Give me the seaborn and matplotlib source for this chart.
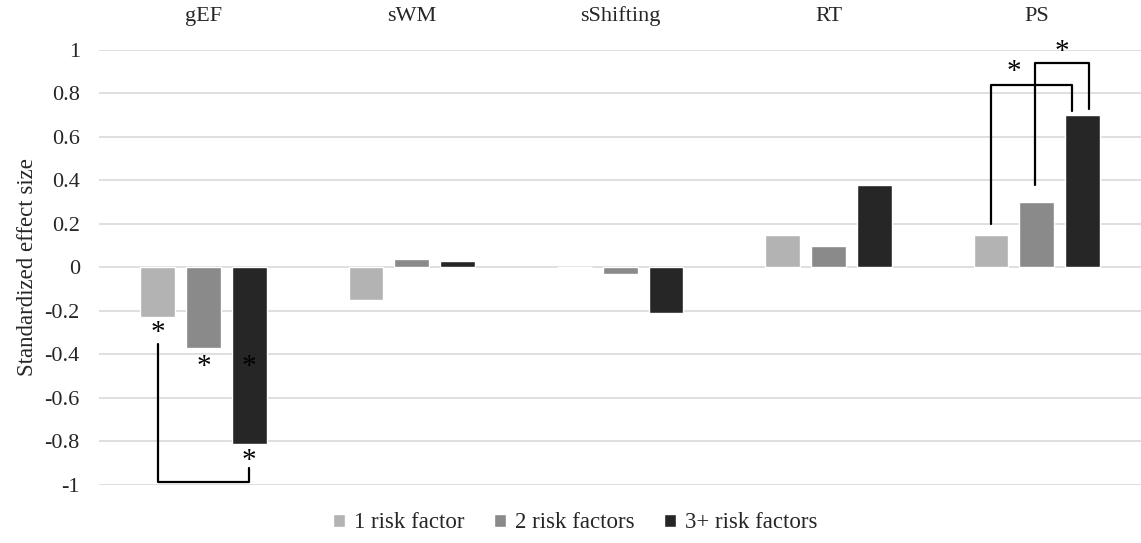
import matplotlib
matplotlib.use("Agg")
import matplotlib.pyplot as plt
import seaborn as sns
import pandas as pd

# Data
domains = ["gEF", "sWM", "sShifting", "RT", "PS"]
groups = ["1 risk factor", "2 risk factors", "3+ risk factors"]
one_risk = [-0.23, -0.15, 0.0, 0.15, 0.15]
two_risk = [-0.37, 0.04, -0.03, 0.10, 0.30]
three_risk = [-0.81, 0.03, -0.21, 0.38, 0.70]
yticks = [1, 0.8, 0.6, 0.4, 0.2, 0, -0.2, -0.4, -0.6, -0.8, -1]

colors = ["#b3b3b3", "#8a8a8a", "#262626"]

df = pd.DataFrame({
    "domain": domains * 3,
    "group": [g for g in groups for _ in domains],
    "value": one_risk + two_risk + three_risk,
})

sns.set_theme(style="white")
plt.rcParams["font.family"] = ["Liberation Serif", "DejaVu Serif"]

fig = plt.figure(figsize=(11.41, 5.43), dpi=100)
ax = fig.add_axes([0.087, 0.107, 0.913, 0.801])

sns.barplot(data=df, x="domain", y="value", hue="group", order=domains,
            hue_order=groups, palette=colors, width=0.66, gap=0.24,
            errorbar=None, saturation=1, ax=ax)

ax.set_ylim(-1, 1)
ax.set_xlim(-0.5, 4.5)
ax.set_yticks(yticks)
ax.set_yticklabels([f"{t:g}" for t in yticks], fontsize=16)
for t in yticks:
    ax.axhline(t, color="#d9d9d9", lw=1.2, zorder=0)
for s in ax.spines.values():
    s.set_visible(False)
ax.tick_params(axis="y", length=0, pad=14)
ax.xaxis.tick_top()
ax.tick_params(axis="x", length=0, pad=17, labelsize=16)
ax.set_xlabel("")
ax.set_ylabel("Standardized effect size", fontsize=16.5, labelpad=5)

# significance markers
off = 0.22
star_kw = dict(ha="center", va="center", fontsize=21, color="black")
ax.text(0 - off, -0.30, "*", **star_kw)
ax.text(0, -0.46, "*", **star_kw)
ax.text(0 + off, -0.46, "*", **star_kw)
ax.text(0 + off, -0.89, "*", **star_kw)
ax.plot([0 - off, 0 - off, 0 + off, 0 + off], [-0.35, -0.985, -0.985, -0.92],
        color="black", lw=1.6, clip_on=False)

ax.plot([4 - off, 4 - off, 4 + off - 0.05, 4 + off - 0.05], [0.20, 0.84, 0.84, 0.72],
        color="black", lw=1.6, clip_on=False)
ax.text(4 - 0.11, 0.90, "*", **star_kw)
ax.plot([4 - 0.01, 4 - 0.01, 4 + off + 0.03, 4 + off + 0.03], [0.38, 0.94, 0.94, 0.73],
        color="black", lw=1.6, clip_on=False)
ax.text(4 + 0.12, 0.99, "*", **star_kw)

handles, labels = ax.get_legend_handles_labels()
ax.legend(handles, labels, loc="center", bbox_to_anchor=(0.457, -0.087),
          ncol=3, frameon=False, prop={"family": "Liberation Serif", "size": 16.5},
          handlelength=0.5, handleheight=0.5, handletextpad=0.4,
          columnspacing=1.3)

fig.savefig("out.png", dpi=100)
